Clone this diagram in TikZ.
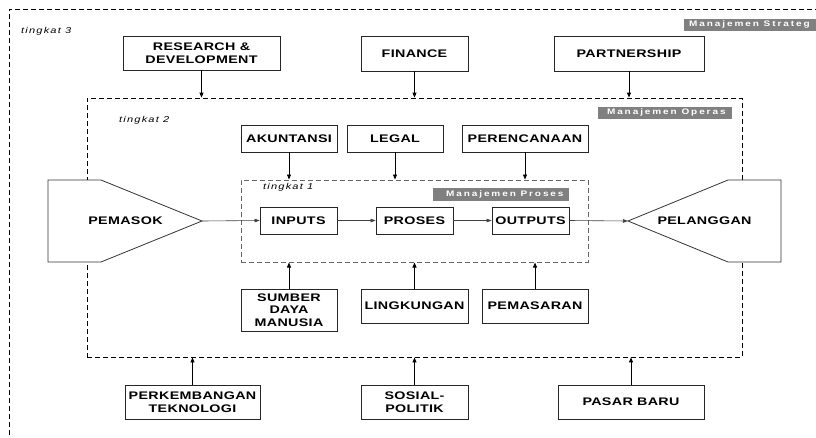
\documentclass[tikz,border=0pt]{standalone}
\usepackage{fontspec}
\setmainfont{Liberation Sans}
\newfontfamily\boxfont[FakeStretch=1.3,LetterSpace=3]{Liberation Sans}
\newfontfamily\tagfont[FakeStretch=1.25,LetterSpace=24]{Liberation Sans}
\newfontfamily\lvlfont[FakeStretch=1.3,LetterSpace=14]{Liberation Sans}
\usetikzlibrary{arrows.meta}

\tikzset{
  blk/.style={draw=black!85, line width=0.8pt, fill=white, align=center,
    inner sep=0pt, font=\boxfont\bfseries\fontsize{11}{12.5}\selectfont},
  shapetext/.style={inner sep=0pt, font=\boxfont\bfseries\fontsize{11}{12.5}\selectfont},
  lvl/.style={draw=black, dash pattern=on 5pt off 3pt, line width=0.8pt},
  lvlgray/.style={draw=black!60, dash pattern=on 5pt off 3pt, line width=1pt},
  tag/.style={fill=black!50, text=white, inner ysep=0pt, inner xsep=0pt,
    minimum height=12pt, font=\tagfont\bfseries\fontsize{8}{9}\selectfont},
  lvllabel/.style={anchor=base west, inner sep=0pt,
    font=\lvlfont\itshape\fontsize{8.5}{9}\selectfont},
  feed/.style={-{Triangle[length=5pt,width=4pt]}, line width=0.8pt, draw=black},
  flow/.style={-{Triangle[length=5pt,width=3.5pt]}, line width=0.6pt, draw=black!75},
  endshape/.style={draw=black!80, line width=0.8pt, fill=white}
}

\begin{document}
\begin{tikzpicture}[x=1pt,y=-1pt]
  \useasboundingbox (0,0) rectangle (816,437);
  \clip (0,0) rectangle (816,437);
  \fill[white] (0,0) rectangle (816,437);

  % level frames
  \node[lvl, minimum width=821pt, minimum height=441pt, inner sep=0pt] (t3) at (419.5,229.5) {};
  \node[lvl, minimum width=655pt, minimum height=259pt, inner sep=0pt] (t2) at (414.5,227.5) {};
  \node[lvlgray, minimum width=347pt, minimum height=82pt, inner sep=0pt] (t1) at (414.5,221) {};

  % level labels
  \node[lvllabel] (l3) at (21,33) {tingkat 3};
  \node[lvllabel] (l2) at (119,122) {tingkat 2};
  \node[lvllabel] (l1) at (263,189) {tingkat 1};

  \node[tag, anchor=west, minimum width=140pt] (g3) at (684,24.5) {\makebox[140pt][l]{\hspace*{5pt}Manajemen Strateg}};
  \node[tag, anchor=east, minimum width=134pt] (g2) at (732,112.5) {\hspace*{3pt}Manajemen Operas};
  \node[tag, anchor=east, minimum width=136pt, minimum height=13pt] (g1) at (569,194.5) {\hspace*{8pt}Manajemen Proses};

  % strategic level
  \node[blk, minimum width=157pt, minimum height=34pt] (rd) at (201.5,53) {RESEARCH \&\\DEVELOPMENT};
  \node[blk, minimum width=107pt, minimum height=35pt] (fin) at (414.5,53.5) {FINANCE};
  \node[blk, minimum width=150pt, minimum height=35pt] (part) at (629,53.5) {PARTNERSHIP};

  % operational level
  \node[blk, minimum width=96pt, minimum height=27pt] (aku) at (289,138.5) {AKUNTANSI};
  \node[blk, minimum width=96pt, minimum height=27pt] (leg) at (395,138.5) {LEGAL};
  \node[blk, minimum width=126pt, minimum height=27pt] (ren) at (525,138.5) {PERENCANAAN};
  \node[blk, minimum width=96pt, minimum height=42pt] (sdm) at (289,310) {SUMBER\\DAYA\\MANUSIA};
  \node[blk, minimum width=107pt, minimum height=34pt] (lin) at (414.5,306) {LINGKUNGAN};
  \node[blk, minimum width=106pt, minimum height=34pt] (pms) at (535,306) {PEMASARAN};

  % process level
  \node[blk, minimum width=77pt, minimum height=27pt] (inp) at (298.5,220.5) {INPUTS};
  \node[blk, minimum width=77pt, minimum height=27pt] (pro) at (414.5,220.5) {PROSES};
  \node[blk, minimum width=77pt, minimum height=27pt] (out) at (530.5,220.5) {OUTPUTS};

  % external drivers
  \node[blk, minimum width=135pt, minimum height=34pt] (tek) at (192.5,402) {PERKEMBANGAN\\TEKNOLOGI};
  \node[blk, minimum width=107pt, minimum height=34pt] (sos) at (414.5,402) {SOSIAL-\\POLITIK};
  \node[blk, minimum width=146pt, minimum height=34pt] (pas) at (631,402) {PASAR BARU};

  % supplier and customer
  \draw[endshape] (48,180) -- (101,180) -- (202,221) -- (101,262) -- (48,262) -- cycle;
  \coordinate (pemTip) at (202,221);
  \node[shapetext] (pem) at (125.5,221) {PEMASOK};
  \draw[endshape] (628,221) -- (728,180) -- (781,180) -- (781,262) -- (728,262) -- cycle;
  \coordinate (pelTip) at (628,221);
  \node[shapetext] (pel) at (704.5,221) {PELANGGAN};

  % main flow
  \draw[flow] (pemTip) -- (inp.west);
  \draw[flow] (inp.east) -- (pro.west);
  \draw[flow] (pro.east) -- (out.west);
  \draw[flow] (out.east) -- (pelTip);

  % influences on level 2
  \foreach \b in {rd,fin,part}
    \draw[feed] (\b.south) -- (\b.south |- t2.north);
  \foreach \b in {tek,sos,pas}
    \draw[feed] (\b.north) -- (\b.north |- t2.south);

  % influences on level 1
  \foreach \b in {aku,leg,ren}
    \draw[feed] (\b.south) -- (\b.south |- t1.north);
  \foreach \b in {sdm,lin,pms}
    \draw[feed] (\b.north) -- (\b.north |- t1.south);
\end{tikzpicture}
\end{document}
